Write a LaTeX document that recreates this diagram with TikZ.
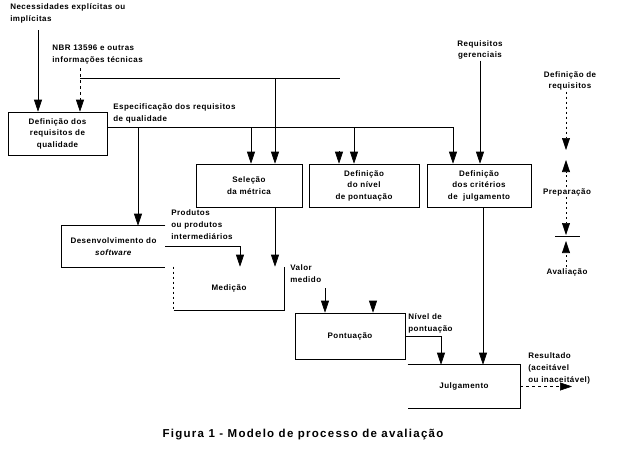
\documentclass[tikz,border=0pt]{standalone}
\usepackage{fontspec}
\setmainfont{Liberation Sans}
\newfontfamily\lblfont[LetterSpace=6]{Liberation Sans}
\newfontfamily\capfont[LetterSpace=11]{Liberation Sans}
\usetikzlibrary{arrows.meta,positioning}

\begin{document}
\begin{tikzpicture}[x=1pt, y=-1pt, node distance=115pt, line width=0.6pt,
  flow/.style={-{Triangle[width=8pt,length=12pt]}},
  faint/.style={dash pattern=on 2pt off 3pt},
  proc/.style={draw, align=center, minimum height=43pt, inner sep=1pt,
    font=\lblfont\bfseries\fontsize{8}{11.5}\selectfont},
  openbox/.style={proc, draw=none},
  lbl/.style={align=left, inner sep=0pt, anchor=north west,
    font=\lblfont\bfseries\fontsize{8}{12}\selectfont},
  side/.style={align=center, inner sep=1pt,
    font=\lblfont\bfseries\fontsize{8}{11}\selectfont}]
  \useasboundingbox (0,0) rectangle (625,458);

  \node[proc, minimum width=99pt]      (defreq) at (57.5,133.5) {Definição dos\\requisitos de\\qualidade};
  \node[openbox, minimum width=103pt, minimum height=41pt] (desenv) at (113.5,246.5) {Desenvolvimento do\\\textit{software}};
  \node[proc, minimum width=106pt]     (sel) at (249,185.5) {Seleção\\da métrica};
  \node[proc, minimum width=110pt]     (niv) [right of=sel] {Definição\\do nível\\de pontuação};
  \node[proc, minimum width=104pt]     (crit) [right of=niv] {Definição\\dos critérios\\de\ \ julgamento};
  \node[openbox, minimum width=110pt]  (med) at (229,288.5) {Medição};
  \node[proc, minimum width=110pt, minimum height=46pt] (pont) at (350,336) {Pontuação};
  \node[openbox, minimum width=112pt]  (julg) at (464,386.5) {Julgamento};

  \draw (desenv.north east) -- (desenv.north west) -- (desenv.south west) -- (desenv.south east);
  \draw[faint] (med.north west) -- (med.south west);
  \draw (med.south west) -- (med.south east) -- (med.north east);
  \draw (julg.north west) -- (julg.north east) -- (julg.south east) -- (julg.south west);

  \node[lbl] (nec)  at (10,3)      {Necessidades explícitas ou\\implícitas};
  \node[lbl] (nbr)  at (52,44.5)   {NBR 13596 e outras\\informações técnicas};
  \node[lbl] (esp)  at (113,103)   {Especificação dos requisitos\\de qualidade};
  \node[lbl] (prod) at (171,209.5) {Produtos\\ou produtos\\intermediários};
  \node[lbl] (vm)   at (290,264.5) {Valor\\medido};
  \node[lbl] (np)   at (408,313.5) {Nível de\\pontuação};
  \node[lbl] (res)  at (528,352.5) {Resultado\\(aceitável\\ou inaceitável)};
  \node[side] (rg)   at (480,50)   {Requisitos\\gerenciais};
  \node[side] (defr) at (570,81)   {Definição de\\requisitos};
  \node[side] (prep) at (567,192)  {Preparação};
  \node[side] (aval) at (567,272)  {Avaliação};
  \node[font=\capfont\bfseries\fontsize{11.5}{13}\selectfont] (fig) at (303,435)
    {Figura 1 - Modelo de processo de avaliação};

  \coordinate (necout) at (38,30);
  \coordinate (nbrout) at (80,68);
  \coordinate (nbrj)   at (80,78);
  \coordinate (nbre)   at (340,78);
  \coordinate (nivin)  at (339,151);
  \coordinate (selout) at ([xshift=26pt]sel.south);
  \coordinate (vmout)  at (325,288);
  \coordinate (pontin) at (373,301);
  \coordinate (critout) at ([xshift=4pt]crit.south);
  \coordinate (resout) at (572,386.5);
  \coordinate (s1) at (566,155);
  \coordinate (s2) at (566,236);

  \draw[flow] (necout) -- (necout |- defreq.north);
  \draw[flow, dashed] (nbrout) -- (nbrout |- defreq.north);
  \draw (nbrj) -- (nbre);
  \draw[flow] (nbrj) -| ([xshift=26pt]sel.north);
  \draw[flow] (nivin) -- (nivin |- niv.north);

  \draw[flow] ([yshift=6.5pt]defreq.east) -| ([xshift=24.5pt]desenv.north);
  \draw[flow] ([yshift=6.5pt]defreq.east) -| ([xshift=2pt]sel.north);
  \draw[flow] ([yshift=6.5pt]defreq.east) -| ([xshift=-10pt]niv.north);
  \draw[flow] ([yshift=6.5pt]defreq.east) -| ([xshift=-26pt]crit.north);
  \draw[flow] (rg) -- (rg |- crit.north);

  \draw[flow] (desenv.east) -| ([xshift=11pt]med.north);
  \draw[flow] (selout) -- (selout |- med.north);
  \draw[flow] (vmout) -- (vmout |- pont.north);
  \draw[flow] (pontin) -- (pontin |- pont.north);
  \draw[flow] (pont.east) -| ([xshift=-23pt]julg.north);
  \draw[flow] (critout) -- (critout |- julg.north);
  \draw[flow, dashed] (julg.east) -- (resout);

  \draw[flow, faint] (defr.south -| s1) -- ([yshift=5pt]s1);
  \draw[flow, faint] (prep.north -| s1) -- ([yshift=-5pt]s1);
  \draw[flow, faint] (prep.south -| s2) -- ([yshift=1pt]s2);
  \draw[flow, faint] (aval.north -| s2) -- ([yshift=-5pt]s2);
  \draw ([xshift=-11pt]s2) -- ([xshift=14pt]s2);
\end{tikzpicture}
\end{document}
